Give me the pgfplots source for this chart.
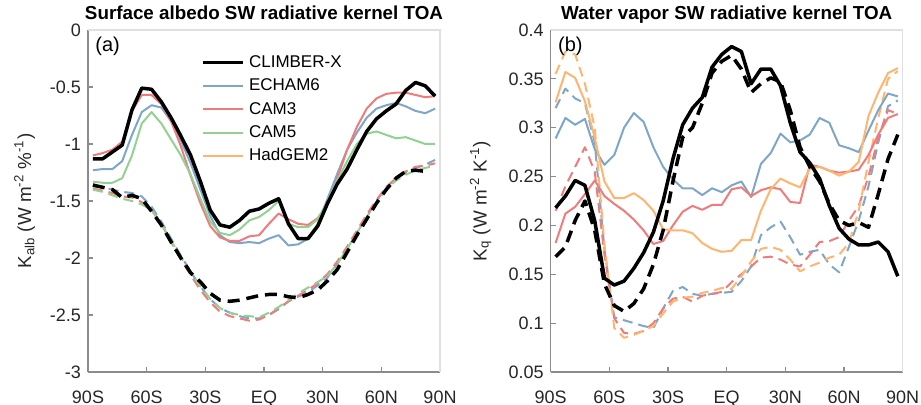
\documentclass[border=0pt]{standalone}
\usepackage{fontspec}
\setmainfont{Liberation Sans}
\usepackage{pgfplots}
\usepackage{pgfplotstable}
\pgfplotsset{compat=1.18}

\definecolor{cblue}{HTML}{7EA6C9}
\definecolor{cred}{HTML}{F07B7B}
\definecolor{cgreen}{HTML}{93D193}
\definecolor{corange}{HTML}{FFB570}
\definecolor{axgray}{HTML}{8C8C8C}
\definecolor{boxgray}{HTML}{E0E0E0}
\definecolor{txt}{HTML}{262626}

% surface albedo kernel, solid = all-sky, dashed = clear-sky
\pgfplotstableread{
lat   cx    ec    cthree cfive
-87.5 -1.13 -1.23 -1.10 -1.33
-82.5 -1.13 -1.22 -1.08 -1.34
-77.5 -1.07 -1.22 -1.05 -1.34
-72.5 -1.01 -1.15 -0.98 -1.30
-67.5 -0.70 -0.92 -0.71 -1.10
-62.5 -0.51 -0.72 -0.57 -0.82
-57.5 -0.52 -0.66 -0.57 -0.72
-52.5 -0.63 -0.68 -0.65 -0.82
-47.5 -0.77 -0.80 -0.80 -0.96
-42.5 -0.93 -0.97 -1.02 -1.10
-37.5 -1.10 -1.17 -1.28 -1.27
-32.5 -1.33 -1.40 -1.52 -1.48
-27.5 -1.58 -1.63 -1.72 -1.68
-22.5 -1.71 -1.80 -1.82 -1.78
-17.5 -1.73 -1.86 -1.85 -1.80
-12.5 -1.67 -1.87 -1.85 -1.75
-7.5  -1.59 -1.86 -1.81 -1.67
-2.5  -1.57 -1.87 -1.80 -1.64
2.5   -1.52 -1.83 -1.70 -1.58
7.5   -1.48 -1.80 -1.61 -1.50
12.5  -1.70 -1.89 -1.66 -1.70
17.5  -1.83 -1.88 -1.70 -1.73
22.5  -1.83 -1.83 -1.71 -1.73
27.5  -1.72 -1.70 -1.65 -1.66
32.5  -1.52 -1.48 -1.53 -1.50
37.5  -1.35 -1.26 -1.30 -1.32
42.5  -1.22 -1.05 -1.05 -1.15
47.5  -1.05 -0.90 -0.85 -1.00
52.5  -0.89 -0.77 -0.69 -0.91
57.5  -0.78 -0.69 -0.60 -0.89
62.5  -0.71 -0.66 -0.56 -0.92
67.5  -0.65 -0.64 -0.55 -0.95
72.5  -0.53 -0.67 -0.55 -0.94
77.5  -0.46 -0.71 -0.57 -0.97
82.5  -0.49 -0.73 -0.59 -1.00
87.5  -0.58 -0.69 -0.58 -1.00
}\albsolid

\pgfplotstableread{
lat   cx    ec    cthree cfive
-87.5 -1.36 -1.37 -1.39 -1.40
-82.5 -1.38 -1.38 -1.41 -1.42
-77.5 -1.40 -1.40 -1.43 -1.45
-72.5 -1.47 -1.42 -1.46 -1.48
-67.5 -1.45 -1.43 -1.47 -1.50
-62.5 -1.48 -1.46 -1.51 -1.53
-57.5 -1.59 -1.55 -1.58 -1.58
-52.5 -1.71 -1.68 -1.70 -1.70
-47.5 -1.86 -1.83 -1.86 -1.85
-42.5 -2.00 -1.98 -2.01 -1.99
-37.5 -2.13 -2.12 -2.15 -2.13
-32.5 -2.21 -2.25 -2.28 -2.25
-27.5 -2.31 -2.36 -2.39 -2.36
-22.5 -2.37 -2.44 -2.47 -2.44
-17.5 -2.38 -2.48 -2.51 -2.48
-12.5 -2.37 -2.51 -2.53 -2.50
-7.5  -2.35 -2.53 -2.55 -2.51
-2.5  -2.33 -2.53 -2.54 -2.52
2.5   -2.32 -2.50 -2.50 -2.48
7.5   -2.32 -2.45 -2.44 -2.43
12.5  -2.34 -2.38 -2.38 -2.37
17.5  -2.35 -2.34 -2.33 -2.31
22.5  -2.32 -2.30 -2.28 -2.26
27.5  -2.28 -2.24 -2.22 -2.21
32.5  -2.20 -2.17 -2.14 -2.16
37.5  -2.10 -2.05 -2.03 -2.05
42.5  -1.95 -1.92 -1.90 -1.92
47.5  -1.80 -1.78 -1.76 -1.78
52.5  -1.66 -1.64 -1.62 -1.64
57.5  -1.52 -1.50 -1.49 -1.52
62.5  -1.40 -1.38 -1.38 -1.40
67.5  -1.30 -1.30 -1.30 -1.32
72.5  -1.24 -1.25 -1.24 -1.27
77.5  -1.23 -1.21 -1.20 -1.23
82.5  -1.24 -1.18 -1.19 -1.21
87.5  nan   -1.14 -1.17 -1.19
}\albdash

% water vapour kernel
\pgfplotstableread{
lat   cx    ec    cthree had
-87.5 0.218 0.289 0.182 0.326
-82.5 0.230 0.310 0.212 0.357
-77.5 0.246 0.303 0.219 0.351
-72.5 0.241 0.309 0.232 0.327
-67.5 0.205 0.278 0.246 0.290
-62.5 0.146 0.262 0.230 0.245
-57.5 0.139 0.272 0.222 0.228
-52.5 0.143 0.300 0.215 0.228
-47.5 0.156 0.315 0.206 0.233
-42.5 0.172 0.306 0.195 0.226
-37.5 0.193 0.280 0.181 0.215
-32.5 0.225 0.260 0.184 0.196
-27.5 0.268 0.247 0.200 0.195
-22.5 0.303 0.238 0.214 0.195
-17.5 0.320 0.238 0.220 0.192
-12.5 0.331 0.231 0.216 0.182
-7.5  0.362 0.238 0.221 0.176
-2.5  0.375 0.234 0.221 0.173
2.5   0.383 0.241 0.237 0.174
7.5   0.378 0.245 0.239 0.185
12.5  0.345 0.229 0.230 0.185
17.5  0.360 0.263 0.236 0.215
22.5  0.360 0.274 0.239 0.237
27.5  0.343 0.294 0.237 0.248
32.5  0.305 0.285 0.224 0.243
37.5  0.275 0.287 0.223 0.239
42.5  0.264 0.293 0.262 0.258
47.5  0.248 0.310 0.260 0.260
52.5  0.220 0.305 0.256 0.256
57.5  0.197 0.282 0.254 0.251
62.5  0.186 0.279 0.255 0.255
67.5  0.180 0.275 0.257 0.265
72.5  0.180 0.297 0.272 0.312
77.5  0.183 0.318 0.293 0.336
82.5  0.173 0.335 0.310 0.356
87.5  0.148 0.332 0.314 0.361
}\wvsolid

\pgfplotstableread{
lat   cx    ec    cthree had
-87.5 0.168 0.320 0.215 0.355
-82.5 0.178 0.340 0.240 0.378
-77.5 0.205 0.330 0.260 0.375
-72.5 0.225 0.325 0.280 0.345
-67.5 0.195 0.285 0.255 0.300
-62.5 0.140 0.175 0.170 0.180
-57.5 0.118 0.106 0.105 0.095
-52.5 0.112 0.103 0.090 0.085
-47.5 0.120 0.100 0.089 0.088
-42.5 0.135 0.097 0.092 0.092
-37.5 0.160 0.095 0.100 0.097
-32.5 0.195 0.115 0.115 0.110
-27.5 0.245 0.133 0.125 0.122
-22.5 0.290 0.137 0.127 0.126
-17.5 0.300 0.130 0.122 0.127
-12.5 0.325 0.128 0.128 0.131
-7.5  0.356 0.130 0.130 0.133
-2.5  0.368 0.131 0.132 0.136
2.5   0.374 0.132 0.142 0.135
7.5   0.360 0.143 0.150 0.148
12.5  0.336 0.158 0.158 0.163
17.5  0.345 0.190 0.167 0.176
22.5  0.351 0.198 0.168 0.178
27.5  0.347 0.204 0.165 0.175
32.5  0.318 0.188 0.160 0.165
37.5  0.280 0.170 0.158 0.153
42.5  0.260 0.173 0.170 0.158
47.5  0.245 0.175 0.183 0.162
52.5  0.222 0.160 0.184 0.167
57.5  0.205 0.152 0.188 0.170
62.5  0.200 0.178 0.205 0.182
67.5  0.203 0.205 0.220 0.215
72.5  0.198 0.240 0.250 0.265
77.5  0.232 0.285 0.290 0.310
82.5  0.268 0.322 0.318 0.350
87.5  0.293 0.328 0.314 0.358
}\wvdash

\newcommand{\fs}{\fontsize{8.5}{10}\selectfont}
\newcommand{\fst}{\fontsize{9}{11}\selectfont}
\newcommand{\fsl}{\fontsize{9.4}{11}\selectfont}

\pgfplotsset{
  panel/.style={
    scale only axis, width=176pt, height=171pt,
    xmin=-90, xmax=90,
    xtick={-90,-60,-30,0,30,60,90},
    xticklabels={90S,60S,30S,EQ,30N,60N,90N},
    axis lines=left,
    axis line style={axgray, -, line width=0.6pt},
    tick align=inside,
    major tick length=2.5pt,
    tick style={axgray, line width=0.6pt},
    tick label style={font=\fst, text=txt},
    xticklabel style={yshift=-6pt},
    label style={font=\fsl, text=txt},
    title style={font=\bfseries\fsl, text=black, at={(0.5,1)}, anchor=base, yshift=-1pt},
    every axis plot/.append style={no marks, line join=round},
    clip=false,
  },
  blk/.style={black, line width=1.75pt},
  blkd/.style={black, line width=1.75pt, dash pattern=on 6pt off 3.5pt},
  col/.style={#1, line width=1pt},
  cold/.style={#1, line width=1pt, dash pattern=on 5pt off 3pt},
}

\begin{document}
\begin{tikzpicture}
\useasboundingbox (-44pt,-16.5pt) rectangle (416.5pt,186pt);

\begin{axis}[panel,
  ymin=-3, ymax=0,
  ytick={-3,-2.5,-2,-1.5,-1,-0.5,0},
  yticklabels={-3,-2.5,-2,-1.5,-1,-0.5,0},
  title={Surface albedo SW radiative kernel TOA},
  ylabel={K\textsubscript{alb} (W m\textsuperscript{-2} \%\textsuperscript{-1})},
  ylabel style={at={(axis description cs:-0.18,0.5)}, anchor=center},
  legend style={at={(rel axis cs:0.322,0.94)}, anchor=north west,
    draw=none, fill=none, inner sep=0pt, font=\fs, text=black,
    nodes={inner sep=1.9pt, text height=6.3pt, text depth=1.6pt}},
  legend cell align=left,
  legend image code/.code={\draw[#1] (0pt,0pt) -- (20pt,0pt);},
]
\draw[boxgray, line width=0.6pt] (rel axis cs:0,1) -- (rel axis cs:1,1) -- (rel axis cs:1,0);
\addlegendimage{blk}
\addlegendimage{col=cblue}
\addlegendimage{col=cred}
\addlegendimage{col=cgreen}
\addlegendimage{col=corange}
\legend{CLIMBER-X,ECHAM6,CAM3,CAM5,HadGEM2}

\addplot[cold=cblue, forget plot] table[x=lat, y=ec] {\albdash};
\addplot[cold=cred, forget plot] table[x=lat, y=cthree] {\albdash};
\addplot[cold=cgreen, forget plot] table[x=lat, y=cfive] {\albdash};
\addplot[col=cblue, forget plot] table[x=lat, y=ec] {\albsolid};
\addplot[col=cred, forget plot] table[x=lat, y=cthree] {\albsolid};
\addplot[col=cgreen, forget plot] table[x=lat, y=cfive] {\albsolid};
\addplot[blkd, forget plot] table[x=lat, y=cx] {\albdash};
\addplot[blk, forget plot] table[x=lat, y=cx] {\albsolid};

\node[anchor=north west, inner sep=0pt, font=\fontsize{10}{12}\selectfont] at (rel axis cs:0.02,0.982) {(a)};
\end{axis}

\begin{axis}[panel, at={(231.35pt,0pt)},
  ymin=0.05, ymax=0.4,
  ytick={0.05,0.1,0.15,0.2,0.25,0.3,0.35,0.4},
  yticklabels={0.05,0.1,0.15,0.2,0.25,0.3,0.35,0.4},
  title={Water vapor SW radiative kernel TOA},
  ylabel={K\textsubscript{q} (W m\textsuperscript{-2} K\textsuperscript{-1})},
  ylabel style={at={(axis description cs:-0.199,0.5)}, anchor=center},
]
\draw[boxgray, line width=0.6pt] (rel axis cs:0,1) -- (rel axis cs:1,1) -- (rel axis cs:1,0);
\addplot[cold=cblue] table[x=lat, y=ec] {\wvdash};
\addplot[cold=cred] table[x=lat, y=cthree] {\wvdash};
\addplot[cold=corange] table[x=lat, y=had] {\wvdash};
\addplot[col=cblue] table[x=lat, y=ec] {\wvsolid};
\addplot[col=cred] table[x=lat, y=cthree] {\wvsolid};
\addplot[col=corange] table[x=lat, y=had] {\wvsolid};
\addplot[blkd] table[x=lat, y=cx] {\wvdash};
\addplot[blk] table[x=lat, y=cx] {\wvsolid};

\node[anchor=north west, inner sep=0pt, font=\fontsize{10}{12}\selectfont] at (rel axis cs:0.02,0.982) {(b)};
\end{axis}
\end{tikzpicture}
\end{document}
